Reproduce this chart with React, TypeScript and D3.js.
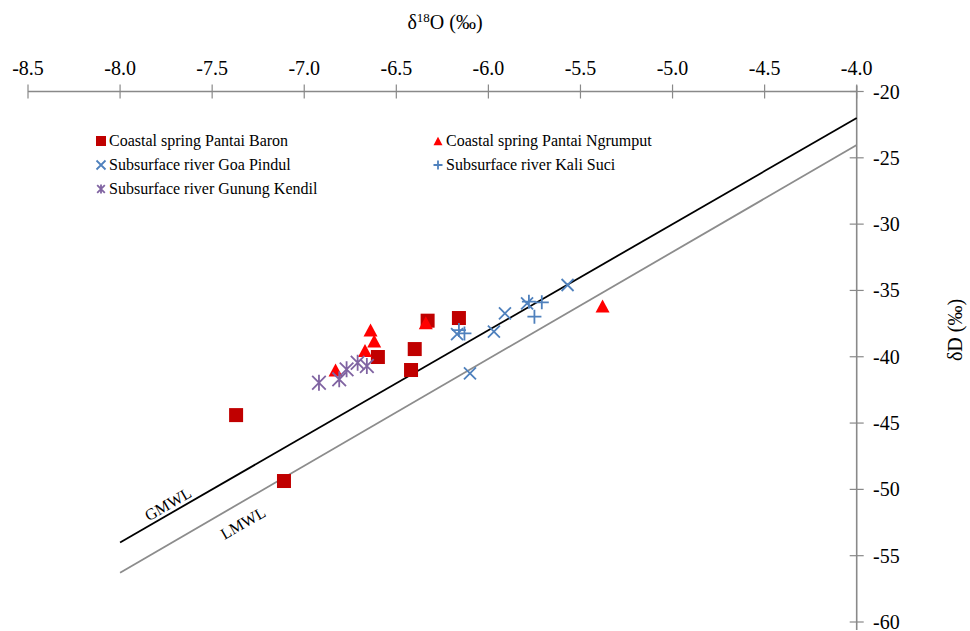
import React from 'react';
import * as d3 from 'd3';

const W = 970;
const H = 631;

// axis ticks
const xTicks = [-8.5, -8.0, -7.5, -7.0, -6.5, -6.0, -5.5, -5.0, -4.5, -4.0];
const yTicks = [-20, -25, -30, -35, -40, -45, -50, -55, -60];

// series (δ18O, δD)
const baronO = [-7.37, -7.11, -6.33, -6.16, -6.40, -6.60, -6.42];
const baronD = [-44.4, -49.37, -37.28, -37.08, -39.42, -40.02, -41.0];
const ngrumputO = [-5.38, -6.34, -6.64, -6.62, -6.67, -6.83];
const ngrumputD = [-36.18, -37.44, -37.99, -38.82, -39.53, -41.0];
const pindulO = [-6.17, -5.97, -5.91, -5.79, -5.57, -6.10];
const pindulD = [-38.29, -38.11, -36.73, -35.97, -34.59, -41.25];
const kaliSuciO = [-6.16, -6.13, -5.78, -5.71, -5.75];
const kaliSuciD = [-37.99, -38.24, -35.85, -35.9, -36.98];
const kendilO = [-6.92, -6.81, -6.77, -6.71, -6.66];
const kendilD = [-41.96, -41.7, -40.95, -40.45, -40.7];

// meteoric water lines: δD = slope * δ18O + intercept
const lineRange = [-8.0, -4.0];
const gmwl = { slope: 8, intercept: 10 };
const lmwl = { slope: 8.06, intercept: 8.2 };

const AXIS = '#898989';
const FONT = '"Liberation Serif", "Times New Roman", serif';

type Kind = 'square' | 'triangle' | 'x' | 'plus' | 'star';

function Marker({ kind, cx, cy, s, color }: { kind: Kind; cx: number; cy: number; s: number; color: string }) {
  const h = s / 2;
  if (kind === 'square') {
    return <rect x={cx - h} y={cy - h} width={s} height={s} fill={color} />;
  }
  if (kind === 'triangle') {
    const th = s * 0.93;
    return <path d={`M${cx},${cy - th / 2}L${cx + h},${cy + th / 2}L${cx - h},${cy + th / 2}Z`} fill={color} />;
  }
  let d = '';
  if (kind === 'x') d = `M${cx - h},${cy - h}L${cx + h},${cy + h}M${cx - h},${cy + h}L${cx + h},${cy - h}`;
  if (kind === 'plus') d = `M${cx - h},${cy}L${cx + h},${cy}M${cx},${cy - h}L${cx},${cy + h}`;
  if (kind === 'star') {
    const k = h * 0.85;
    d = `M${cx - k},${cy - k}L${cx + k},${cy + k}M${cx - k},${cy + k}L${cx + k},${cy - k}M${cx},${cy - h}L${cx},${cy + h}`;
  }
  return <path d={d} stroke={color} strokeWidth={1.8} fill="none" />;
}

const series = [
  { name: 'Coastal spring Pantai Baron', o: baronO, d: baronD, kind: 'square' as Kind, color: '#C00000', size: 14, lx: 101, ly: 141 },
  { name: 'Coastal spring Pantai Ngrumput', o: ngrumputO, d: ngrumputD, kind: 'triangle' as Kind, color: '#FF0000', size: 14, lx: 438, ly: 141 },
  { name: 'Subsurface river Goa Pindul', o: pindulO, d: pindulD, kind: 'x' as Kind, color: '#4F81BD', size: 12, lx: 101, ly: 165 },
  { name: 'Subsurface river Kali Suci', o: kaliSuciO, d: kaliSuciD, kind: 'plus' as Kind, color: '#4F81BD', size: 14, lx: 438, ly: 165 },
  { name: 'Subsurface river Gunung Kendil', o: kendilO, d: kendilD, kind: 'star' as Kind, color: '#8064A2', size: 16, lx: 101, ly: 189 },
];

export default function App() {
  const x = d3.scaleLinear().domain([-8.5, -4.0]).range([28, 856.7]);
  const y = d3.scaleLinear().domain([-20, -60]).range([91.5, 622]);
  const fmt = (t: number) => t.toFixed(1);

  const mwl = (p: { slope: number; intercept: number }) =>
    d3.line<number>().x((v) => x(v)).y((v) => y(p.slope * v + p.intercept))(lineRange) || '';

  const x0 = x(-8.5), x1 = x(-4.0), yTop = y(-20), yBot = y(-60);

  return (
    <div style={{ position: 'absolute', left: 0, top: 0 }}>
      <svg width={W} height={H} style={{ display: 'block', background: '#fff' }} fontFamily={FONT}>
        {/* title */}
        <text x={445} y={29} textAnchor="middle" fontSize={20} fill="#000">
          δ<tspan fontSize={13} dy={-7}>18</tspan><tspan dy={7}>O (‰)</tspan>
        </text>

        {/* x axis (top) */}
        <line x1={x0} x2={x1} y1={yTop} y2={yTop} stroke={AXIS} strokeWidth={1.6} />
        {xTicks.map((t) => (
          <g key={t}>
            <line x1={x(t)} x2={x(t)} y1={yTop - 7} y2={yTop + 7} stroke={AXIS} strokeWidth={1.2} />
            <text x={x(t)} y={75} textAnchor="middle" fontSize={20} fill="#000">{fmt(t)}</text>
          </g>
        ))}

        {/* y axis (right) */}
        <line x1={x1} x2={x1} y1={yTop - 6} y2={yBot + 8} stroke={AXIS} strokeWidth={1.6} />
        {yTicks.map((t) => (
          <g key={t}>
            <line x1={x1 - 7} x2={x1 + 7} y1={y(t)} y2={y(t)} stroke={AXIS} strokeWidth={1.2} />
            <text x={873} y={y(t) + 7} fontSize={20} fill="#000">{t}</text>
          </g>
        ))}
        <text transform="translate(962,330) rotate(-90)" textAnchor="middle" fontSize={20} fill="#000">δD (‰)</text>

        {/* water lines */}
        <path d={mwl(gmwl)} stroke="#000" strokeWidth={1.8} fill="none" />
        <path d={mwl(lmwl)} stroke="#8c8c8c" strokeWidth={1.8} fill="none" />
        <text transform="translate(168,504) rotate(-30)" textAnchor="middle" dominantBaseline="central" fontSize={16} fill="#000">GMWL</text>
        <text transform="translate(243,523) rotate(-30)" textAnchor="middle" dominantBaseline="central" fontSize={16} fill="#000">LMWL</text>

        {/* points */}
        {series.map((s) => (
          <g key={s.name}>
            {s.o.map((v, i) => (
              <Marker key={i} kind={s.kind} cx={x(v)} cy={y(s.d[i])} s={s.size} color={s.color} />
            ))}
          </g>
        ))}

        {/* legend */}
        {series.map((s) => (
          <g key={'lg' + s.name}>
            <Marker kind={s.kind} cx={s.lx} cy={s.ly} s={s.kind === 'square' ? 10 : 9} color={s.color} />
            <text x={s.lx + 8} y={s.ly + 5} fontSize={16} fill="#000">{s.name}</text>
          </g>
        ))}
      </svg>
    </div>
  );
}
